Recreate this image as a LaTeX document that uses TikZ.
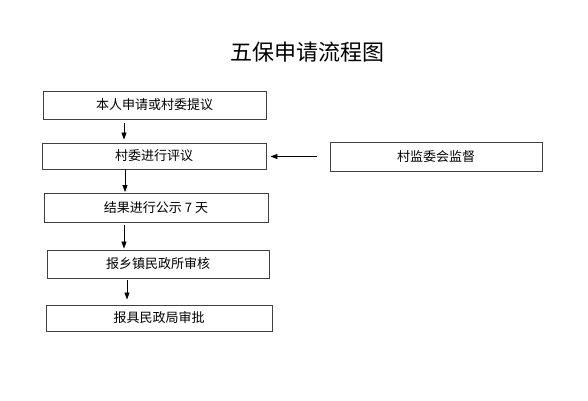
\documentclass[tikz,border=0pt]{standalone}
\usepackage{fontspec}
\setmainfont{Noto Sans CJK SC}
\usetikzlibrary{arrows.meta}

\begin{document}
\begin{tikzpicture}[x=1pt,y=-1pt,
		box/.style={draw=black!75,line width=0.9pt,inner sep=0pt,font=\fontsize{13}{14}\selectfont},
		arr/.style={line width=0.8pt,-{Triangle[length=7pt,width=5pt]}}]
		\useasboundingbox (0,0) rectangle (588,400);
		\node[font=\fontsize{22}{23}\selectfont] (title) at (307.5,52) {五保申请流程图};
		\node[box,minimum width=223pt,minimum height=28pt] (b1) at (154.5,105) {本人申请或村委提议};
		\node[box,minimum width=224pt,minimum height=26pt] (b2) at (154,156) {村委进行评议};
		\node[box,minimum width=224pt,minimum height=29pt] (b3) at (156,207.5) {结果进行公示 7 天};
		\node[box,minimum width=222pt,minimum height=28pt] (b4) at (158,264) {报乡镇民政所审核};
		\node[box,minimum width=226pt,minimum height=26pt] (b5) at (159,318) {报具民政局审批};
		\node[box,minimum width=212pt,minimum height=29pt] (b6) at (436,156.5) {村监委会监督};
		\coordinate (x1) at (124,0);
		\coordinate (x2) at (125,0);
		\coordinate (x4) at (127,0);
		\draw[arr,shorten <=4pt,shorten >=3pt] (b1.south -| x1) -- (b2.north -| x1);
		\draw[arr,shorten >=0.5pt] (b2.south -| x2) -- (b3.north -| x2);
		\draw[arr,shorten <=3pt,shorten >=1pt] (b3.south -| x1) -- (b4.north -| x1);
		\draw[arr,shorten <=2pt,shorten >=5pt] (b4.south -| x4) -- (b5.north -| x4);
		\draw[arr,shorten <=13pt,shorten >=4pt] (b6.west) -- (b6.west -| b2.east);
	\end{tikzpicture}
\end{document}
